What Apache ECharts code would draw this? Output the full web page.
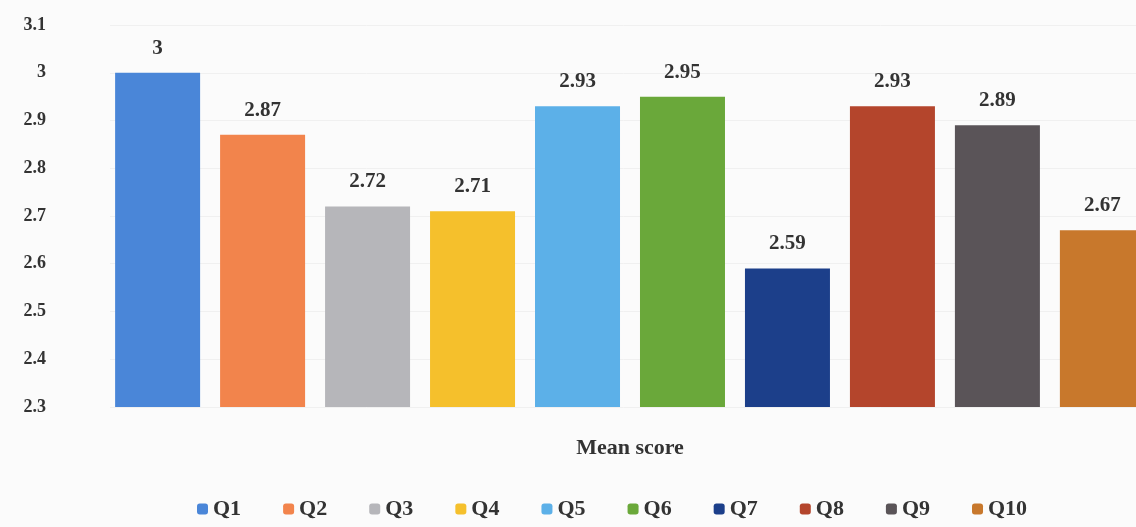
<!DOCTYPE html>
<html><head><meta charset="utf-8">
<script src="https://cdn.jsdelivr.net/npm/echarts@6/dist/echarts.min.js"></script>
<style>html,body{margin:0;padding:0;background:#fbfbfb;}#c{width:1136px;height:527px;}</style>
</head><body><div id="c"></div>
<script>
const categories = ['Mean score'];
const seriesNames = ['Q1','Q2','Q3','Q4','Q5','Q6','Q7','Q8','Q9','Q10'];
const values = [3, 2.87, 2.72, 2.71, 2.93, 2.95, 2.59, 2.93, 2.89, 2.67];
const colors = ['#4a86d8','#f2844c','#b6b6ba','#f5c02c','#5cb0e8','#6aa83a','#1c3f8a','#b4452c','#5a5458','#c8782c'];

const chart = echarts.init(document.getElementById('c'));
const font = '"Liberation Serif", "DejaVu Serif", serif';
chart.setOption({
  backgroundColor: '#fbfbfb',
  color: colors,
  textStyle: {fontFamily: font},
  grid: {left: 110, top: 25, right: -14, height: 382, outerBoundsMode: 'none', containLabel: false},
  legend: {
    bottom: 2, left: 192, itemWidth: 11, itemHeight: 11, itemGap: 42,
    textStyle: {fontFamily: font, fontSize: 22, color: '#333', fontWeight: 'bold'},
    data: seriesNames
  },
  xAxis: {
    type: 'category', data: categories,
    axisLine: {show: false}, axisTick: {show: false},
    axisLabel: {fontFamily: font, fontSize: 22, color: '#333', fontWeight: 'bold', margin: 30}
  },
  yAxis: {
    type: 'value', min: 2.3, max: 3.1, interval: 0.1,
    splitLine: {lineStyle: {color: '#f0f0f0'}},
    axisLabel: {fontFamily: font, fontSize: 18, color: '#333', fontWeight: 'bold', margin: 64,
      formatter: v => String(Math.round(v*10)/10)}
  },
  series: seriesNames.map((n, i) => ({
    name: n, type: 'bar', data: [values[i]],
    barWidth: 85, barGap: '23.5%',
    label: {show: true, position: 'top', distance: 14, fontFamily: font, fontSize: 21,
      fontWeight: 'bold', color: '#333'}
  }))
});
</script></body></html>
